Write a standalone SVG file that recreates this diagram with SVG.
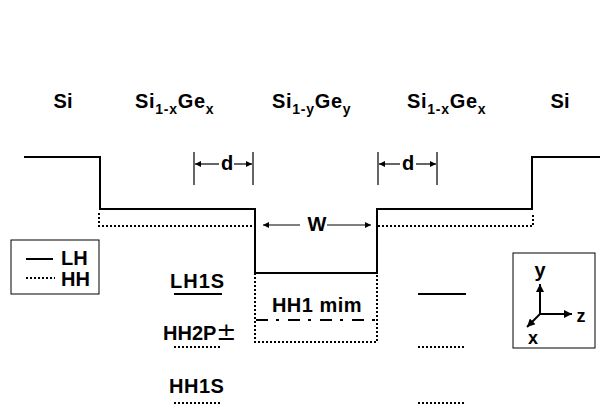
<svg xmlns="http://www.w3.org/2000/svg" width="600" height="408" viewBox="0 0 600 408">
<style>
text{font-family:"Liberation Sans",Arial,sans-serif;font-weight:bold;fill:#000}
.lbl{font-size:20px}
.mat{font-size:20px;letter-spacing:0.7px}
.sub{font-size:14px}
.solid{fill:none;stroke:#000;stroke-width:2}
.dot{fill:none;stroke:#000;stroke-width:2;stroke-dasharray:2,2}
.thin{fill:none;stroke:#000;stroke-width:1.2}
</style>
<defs>
<marker id="ah" viewBox="0 0 10 10" refX="10" refY="5" markerWidth="8" markerHeight="6" orient="auto" markerUnits="userSpaceOnUse"><path d="M0,0 L10,5 L0,10 z" fill="#000"/></marker>
<marker id="ah2" viewBox="0 0 10 10" refX="10" refY="5" markerWidth="9" markerHeight="8" orient="auto" markerUnits="userSpaceOnUse"><path d="M0,0 L10,5 L0,10 z" fill="#000"/></marker>
</defs>
<g id="layers">
<text class="lbl" x="63" y="108" text-anchor="middle">Si</text>
<text class="mat" x="135" y="108">Si<tspan class="sub" dy="6">1-x</tspan><tspan dy="-6">Ge</tspan><tspan class="sub" dy="6">x</tspan></text>
<text class="mat" x="272" y="108">Si<tspan class="sub" dy="6">1-y</tspan><tspan dy="-6">Ge</tspan><tspan class="sub" dy="6">y</tspan></text>
<text class="mat" x="407" y="108">Si<tspan class="sub" dy="6">1-x</tspan><tspan dy="-6">Ge</tspan><tspan class="sub" dy="6">x</tspan></text>
<text class="lbl" x="560" y="108" text-anchor="middle">Si</text>
</g>
<g id="bands">
<path class="solid" d="M24,157 H100 V209 H255 V273 H377 V209 H532 V157 H600"/>
<path class="dot" d="M99,213 V226 H255 V342 H377 V226 H533 V213"/>
<path fill="none" stroke="#000" stroke-width="2" stroke-dasharray="12,8,3,9" d="M256,320 H377"/>
</g>
<g id="dims">
<path class="thin" d="M194,152 V185 M253,152 V185 M378,152 V185 M437,152 V185"/>
<line class="thin" x1="219" y1="164" x2="195" y2="164" marker-end="url(#ah)"/>
<line class="thin" x1="234" y1="164" x2="252" y2="164" marker-end="url(#ah)"/>
<text class="lbl" x="227" y="170" text-anchor="middle">d</text>
<line class="thin" x1="400" y1="164" x2="379" y2="164" marker-end="url(#ah)"/>
<line class="thin" x1="416" y1="164" x2="436" y2="164" marker-end="url(#ah)"/>
<text class="lbl" x="408" y="170" text-anchor="middle">d</text>
<line class="thin" x1="300" y1="225" x2="263" y2="225" marker-end="url(#ah)"/>
<line class="thin" x1="327" y1="225" x2="371" y2="225" marker-end="url(#ah)"/>
<text class="lbl" x="317" y="231" text-anchor="middle">W</text>
</g>
<g id="legend">
<rect x="11" y="240" width="88" height="54" fill="none" stroke="#000" stroke-width="1"/>
<line class="solid" x1="26" y1="259" x2="53" y2="259"/>
<text class="lbl" x="61" y="265">LH</text>
<line class="dot" x1="26" y1="278" x2="55" y2="278"/>
<text class="lbl" x="61" y="286">HH</text>
</g>
<g id="levels">
<text class="lbl" x="170" y="288" letter-spacing="1">LH1S</text>
<line class="solid" x1="174" y1="294" x2="222" y2="294"/>
<text class="lbl" x="163" y="340">HH2P<tspan font-weight="normal" font-size="24" font-family="DejaVu Sans, sans-serif">±</tspan></text>
<line class="dot" x1="174" y1="347" x2="220" y2="347"/>
<text class="lbl" x="169" y="393" letter-spacing="0.5">HH1S</text>
<line class="dot" x1="174" y1="403" x2="220" y2="403"/>
<text class="lbl" x="317" y="312" text-anchor="middle" letter-spacing="0.5">HH1 mim</text>
<line class="solid" x1="418" y1="294" x2="466" y2="294"/>
<line class="dot" x1="418" y1="347" x2="464" y2="347"/>
<line class="dot" x1="418" y1="403" x2="464" y2="403"/>
</g>
<g id="axes">
<rect x="513" y="253" width="82" height="95" fill="none" stroke="#000" stroke-width="1"/>
<line x1="540" y1="314" x2="540" y2="284" stroke="#000" stroke-width="2" marker-end="url(#ah2)"/>
<line x1="540" y1="314" x2="572" y2="314" stroke="#000" stroke-width="2" marker-end="url(#ah2)"/>
<line x1="540" y1="314" x2="527" y2="327" stroke="#000" stroke-width="2" marker-end="url(#ah2)"/>
<text class="lbl" x="540" y="277" text-anchor="middle" font-size="18">y</text>
<text class="lbl" x="581" y="322" text-anchor="middle" style="font-size:18px">z</text>
<text class="lbl" x="533" y="344" text-anchor="middle" style="font-size:18px">x</text>
</g>
</svg>
